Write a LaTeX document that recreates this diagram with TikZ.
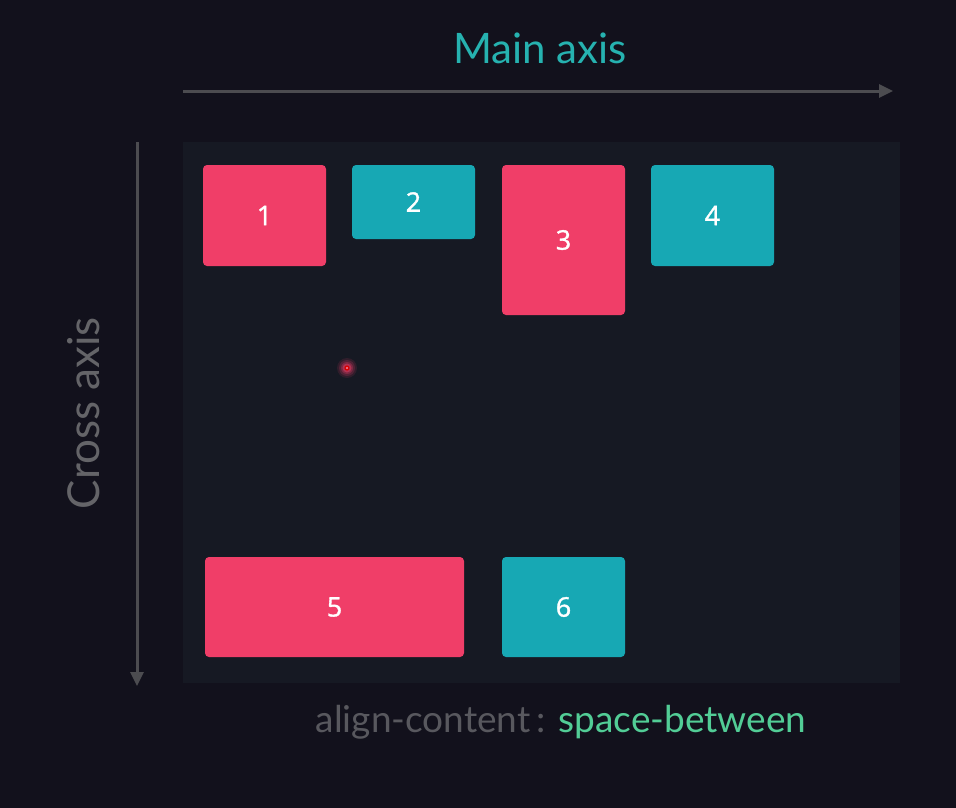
\documentclass[tikz,border=0pt]{standalone}
\usepackage{fontspec}
\setmainfont{Lato}
\newfontfamily\numfont[FakeBold=1.3]{Open Sans}
\usetikzlibrary{arrows.meta}
\definecolor{pagebg}{RGB}{18,17,28}
\definecolor{panelbg}{RGB}{22,25,35}
\definecolor{axisgrey}{RGB}{76,76,80}
\definecolor{crossgrey}{RGB}{100,100,104}
\definecolor{labelgrey}{RGB}{88,88,94}
\definecolor{mainteal}{RGB}{38,178,176}
\definecolor{valgreen}{RGB}{82,205,150}
\definecolor{itempink}{RGB}{240,62,104}
\definecolor{itemteal}{RGB}{23,168,180}
\begin{document}
\begin{tikzpicture}[x=1pt,y=-1pt,
  item/.style={rounded corners=4pt, inner sep=0pt, text=white,
    font=\numfont\fontsize{27}{30}\selectfont},
  pinkitem/.style={item, fill=itempink},
  tealitem/.style={item, fill=itemteal},
  axisarrow/.style={draw=axisgrey, line width=3pt,
    -{Triangle[length=14pt,width=13pt]}}]
  % page and flex container
  \fill[pagebg] (0,0) rectangle (956,808);
  \useasboundingbox (0,0) rectangle (956,808);
  \fill[panelbg] (183,142) rectangle (900,683);

  % axes
  \coordinate (mainstart) at (183,91);
  \coordinate (mainend) at (893,91);
  \draw[axisarrow] (mainstart) -- (mainend);
  \node[text=mainteal, font=\fontsize{42}{48}\selectfont] (mainlabel) at (540,48) {Main axis};

  \coordinate (crossstart) at (137,142);
  \coordinate (crossend) at (137,686);
  \draw[axisarrow] (crossstart) -- (crossend);
  \node[text=crossgrey, rotate=90, font=\fontsize{44}{48}\selectfont] (crosslabel) at (84,413) {Cross axis};

  % flex items
  \node[pinkitem, minimum width=123pt, minimum height=101pt] (i1) at (264.5,215.5) {1};
  \node[tealitem, minimum width=123pt, minimum height=74pt] (i2) at (413.5,202) {2};
  \node[pinkitem, minimum width=123pt, minimum height=150pt] (i3) at (563.5,240) {3};
  \node[tealitem, minimum width=123pt, minimum height=101pt] (i4) at (712.5,215.5) {4};
  \node[pinkitem, minimum width=259pt, minimum height=100pt] (i5) at (334.5,607) {5};
  \node[tealitem, minimum width=123pt, minimum height=100pt] (i6) at (563.5,607) {6};

  % pointer marker
  \foreach \r/\o in {10/0.12,8/0.18,6/0.28,4.5/0.45}
    \fill[itempink, opacity=\o] (347,368) circle (\r pt);
  \fill[red!85!black] (347,368) circle (2.6pt);
  \fill[itempink!60!white] (347,368) circle (1.1pt);

  % property caption
  \node[font=\fontsize{37}{42}\selectfont] (caption) at (561,722)
    {\textcolor{labelgrey}{align-content\,:} \textcolor{valgreen}{space-between}};
\end{tikzpicture}
\end{document}
